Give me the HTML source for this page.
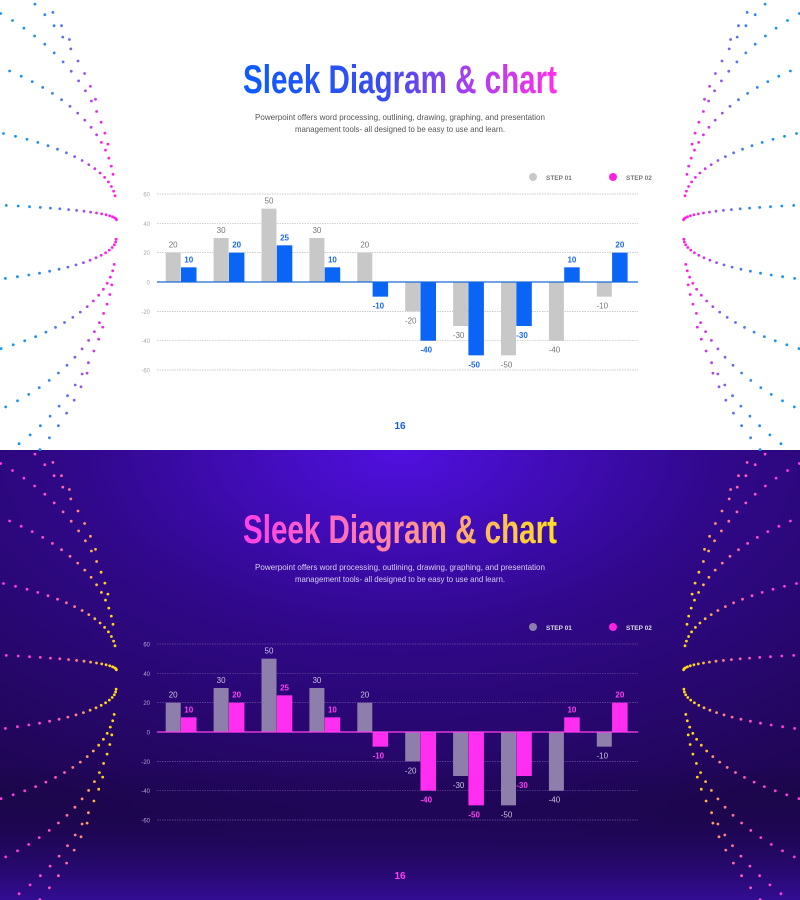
<!DOCTYPE html>
<html><head><meta charset="utf-8"><style>
html,body{margin:0;padding:0;width:800px;height:900px;overflow:hidden;background:#fff}
svg{display:block}
</style></head><body>
<svg id="s" width="800" height="900" xmlns="http://www.w3.org/2000/svg" font-family="Liberation Sans, sans-serif">
<defs>
<linearGradient id="t1" x1="0" x2="1"><stop offset="0" stop-color="#0a5cff"/><stop offset="0.45" stop-color="#3a4cf0"/><stop offset="0.7" stop-color="#a040f0"/><stop offset="1" stop-color="#ff30e8"/></linearGradient>
<linearGradient id="t2" x1="0" x2="1"><stop offset="0" stop-color="#ff40e8"/><stop offset="0.5" stop-color="#ff8aa0"/><stop offset="1" stop-color="#ffe020"/></linearGradient>
<radialGradient id="bg" cx="0.5" cy="0.0" r="0.9"><stop offset="0" stop-color="#5010e0"/><stop offset="0.45" stop-color="#30088a"/><stop offset="1" stop-color="#1e0650"/></radialGradient>
<linearGradient id="bg2" x1="0" x2="0" y1="0" y2="1"><stop offset="0" stop-color="#000" stop-opacity="0"/><stop offset="0.7" stop-color="#000" stop-opacity="0"/><stop offset="1" stop-color="#4010c0" stop-opacity="0.6"/></linearGradient>
</defs>
<rect x="0" y="0" width="800" height="450" fill="#fff"/>
<rect x="0" y="450" width="800" height="450" fill="url(#bg)"/>
<rect x="0" y="450" width="800" height="450" fill="url(#bg2)"/>
<g id="dots"></g>
<g id="ch"></g>
</svg>
<script>
var s=document.getElementById('ch'),d=document.getElementById('dots'),h='';
function lerp(a,b,t){return Math.round(a+(b-a)*t)}
function col(c1,c2,t){return 'rgb('+lerp(c1[0],c2[0],t)+','+lerp(c1[1],c2[1],t)+','+lerp(c1[2],c2[2],t)+')'}
var dh='';
function sphere(px,py,dir,cFar,cNear,y0,y1){
  var R=390,al=0.22,cx=px-R*Math.cos(al);
  for(var m=0;m<28;m++){
    var phi=m/28*2*Math.PI+0.06;
    for(var k=1;k<=26;k++){
      var th=k*0.045;
      var x=R*Math.cos(th), y=R*Math.sin(th)*Math.cos(phi), z=R*Math.sin(th)*Math.sin(phi);
      var x2=x*Math.cos(al)+z*Math.sin(al), z2=-x*Math.sin(al)+z*Math.cos(al);
      if(z2<0)continue;
      var sx=cx+x2, sy=py+y;
      if(sx<0||sy<y0||sy>y1)continue;
      var t=Math.min(1,Math.max(0,(sx-10)/95));
      sx=dir>0?sx:800-sx;
      dh+='<circle cx="'+sx.toFixed(1)+'" cy="'+sy.toFixed(1)+'" r="1.4" fill="'+col(cFar,cNear,Math.pow(t,2.2))+'"/>';
    }
  }
}
sphere(107,225,1,[20,150,240],[255,30,230],0,450);
sphere(107,225,-1,[20,150,240],[255,30,230],0,450);
sphere(107,675,1,[255,60,220],[255,215,30],450,900);
sphere(107,675,-1,[255,60,220],[255,215,30],450,900);
d.innerHTML=dh;
var s1=[20,30,50,30,20,-20,-30,-50,-40,-10],s2=[10,20,25,10,-10,-40,-50,-30,10,20];
function chart(oy,dark){
  var z=282+oy,u=1.467;
  var tc=dark?'url(#t2)':'url(#t1)';
  h+='<text x="400" y="'+(93+oy)+'" text-anchor="middle" font-size="40" font-weight="bold" textLength="314" lengthAdjust="spacingAndGlyphs" fill="'+tc+'">Sleek Diagram &amp; chart</text>';
  var sc=dark?'#d8d0f0':'#555';
  h+='<text x="400" y="'+(120+oy)+'" text-anchor="middle" font-size="8.5" fill="'+sc+'" textLength="290" lengthAdjust="spacingAndGlyphs">Powerpoint offers word processing, outlining, drawing, graphing, and presentation</text>';
  h+='<text x="400" y="'+(132+oy)+'" text-anchor="middle" font-size="8.5" fill="'+sc+'" textLength="210" lengthAdjust="spacingAndGlyphs">management tools- all designed to be easy to use and learn.</text>';
  var g1=dark?'#8e7eac':'#c8c8c8',g2=dark?'#ff2ef0':'#0a64f5',lc=dark?'#ff40f0':'#1a6ad8';
  h+='<circle cx="533" cy="'+(177+oy)+'" r="4" fill="'+g1+'"/><text x="546" y="'+(180+oy)+'" font-size="6.5" font-weight="bold" fill="'+(dark?'#ddd':'#777')+'">STEP 01</text>';
  h+='<circle cx="613" cy="'+(177+oy)+'" r="4" fill="#ff22e0"/><text x="626" y="'+(180+oy)+'" font-size="6.5" font-weight="bold" fill="'+(dark?'#ddd':'#777')+'">STEP 02</text>';
  var gc=dark?'#6a4a9a':'#bbb',tk=dark?'#b0a0d0':'#aaa';
  for(var v=60;v>=-60;v-=20){
    var y=z-v*u;
    if(v!=0)h+='<line x1="157" x2="638" y1="'+y+'" y2="'+y+'" stroke="'+gc+'" stroke-width="0.7" stroke-dasharray="1.5,1"/>';
    h+='<text x="150" y="'+(y+2.5)+'" text-anchor="end" font-size="6" fill="'+tk+'">'+v+'</text>';
  }
  for(var i=0;i<10;i++){
    var x=165.7+i*47.9;
    var a=s1[i],b=s2[i];
    var ya=a>0?z-a*u:z, yb=b>0?z-b*u:z;
    h+='<rect x="'+x+'" y="'+ya+'" width="15" height="'+Math.abs(a*u)+'" fill="'+g1+'"/>';
    h+='<rect x="'+(x+15.3)+'" y="'+yb+'" width="15.5" height="'+Math.abs(b*u)+'" fill="'+g2+'"/>';
    h+='<text x="'+(x+(a<0?-2:0)+7.5)+'" y="'+(a>0?ya-5:z-a*u+12)+'" text-anchor="middle" font-size="8" fill="'+(dark?'#c8c0dc':'#777')+'">'+a+'</text>';
    h+='<text x="'+(x+15.3+7.75+(b<0?-2:0))+'" y="'+(b>0?yb-5:z-b*u+12)+'" text-anchor="middle" font-size="8" font-weight="bold" fill="'+(dark?'#ff40f0':'#1a6ae8')+'">'+b+'</text>';
  }
  h+='<line x1="157" x2="638" y1="'+z+'" y2="'+z+'" stroke="'+lc+'" stroke-width="1.2"/>';
  h+='<text x="400" y="'+(429+oy)+'" text-anchor="middle" font-size="10" font-weight="bold" fill="'+(dark?'#ff40f0':'#1a5ae8')+'">16</text>';
}
chart(0,false);chart(450,true);
s.innerHTML=h;
</script>
</body></html>
